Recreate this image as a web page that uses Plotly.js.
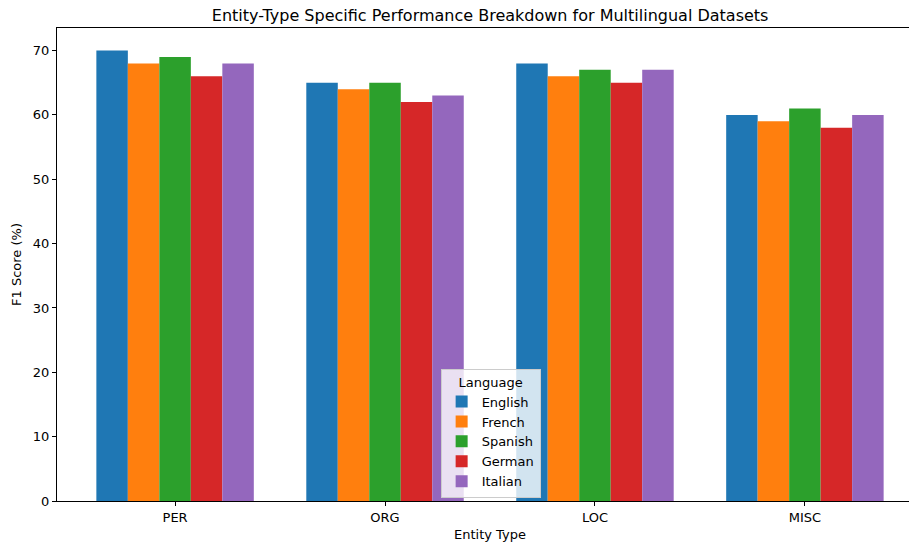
<!DOCTYPE html>
<html>
<head>
<meta charset="utf-8">
<script src="https://cdn.plot.ly/plotly-3.0.1.min.js"></script>
<style>
html, body { margin: 0; padding: 0; overflow: hidden; background: #fff; }
#chart { width: 930px; height: 544px; }
</style>
</head>
<body>
<div id="chart"></div>
<script>
const categories = ["PER", "ORG", "LOC", "MISC"];
const languages = ["English", "French", "Spanish", "German", "Italian"];
const english = [70, 65, 68, 60];
const french = [68, 64, 66, 59];
const spanish = [69, 65, 67, 61];
const german = [66, 62, 65, 58];
const italian = [68, 63, 67, 60];
const seriesValues = [english, french, spanish, german, italian];
const colors = ["#1f77b4", "#ff7f0e", "#2ca02c", "#d62728", "#9467bd"];

const traces = languages.map((name, i) => ({
  type: "bar",
  name: name,
  x: categories,
  y: seriesValues[i],
  marker: { color: colors[i], line: { width: 0 } },
  hoverinfo: "x+y+name"
}));

const fontFam = "DejaVu Sans, sans-serif";
const layout = {
  width: 930,
  height: 544,
  margin: { l: 57, r: 7, t: 28, b: 43 },
  paper_bgcolor: "#fff",
  plot_bgcolor: "#fff",
  font: { family: fontFam, size: 13, color: "#000" },
  title: { text: "Entity-Type Specific Performance Breakdown for Multilingual Datasets", font: { size: 16, family: fontFam }, x: 0.527, xanchor: "center", y: 0.972, yanchor: "middle" },
  barmode: "group",
  bargap: 0.25,
  bargroupgap: 0,
  xaxis: {
    type: "category",
    range: [-0.5625, 3.5625],
    showgrid: false,
    zeroline: false,
    showline: true, linecolor: "#000", linewidth: 1, mirror: true,
    ticks: "outside", ticklen: 4, tickcolor: "#000",
    tickfont: { size: 13 },
    title: { text: "Entity Type", font: { size: 13 }, standoff: 6 }
  },
  yaxis: {
    range: [0, 73.5],
    tickvals: [0, 10, 20, 30, 40, 50, 60, 70],
    showgrid: false,
    zeroline: false,
    showline: true, linecolor: "#000", linewidth: 1, mirror: true,
    ticks: "outside", ticklen: 4, tickcolor: "#000",
    tickfont: { size: 13 },
    title: { text: "F1 Score (%)", font: { size: 13 }, standoff: 8 }
  },
  legend: {
    title: { text: "Language", side: "top center", font: { size: 13 } },
    x: 0.443, xanchor: "left",
    y: 0.007, yanchor: "bottom",
    bgcolor: "rgba(255,255,255,0.8)",
    bordercolor: "#ccc",
    borderwidth: 1,
    font: { size: 13 },
    tracegroupgap: 0,
    itemwidth: 30
  },
  showlegend: true
};

Plotly.newPlot("chart", traces, layout, { displayModeBar: false, staticPlot: true });
</script>
</body>
</html>
